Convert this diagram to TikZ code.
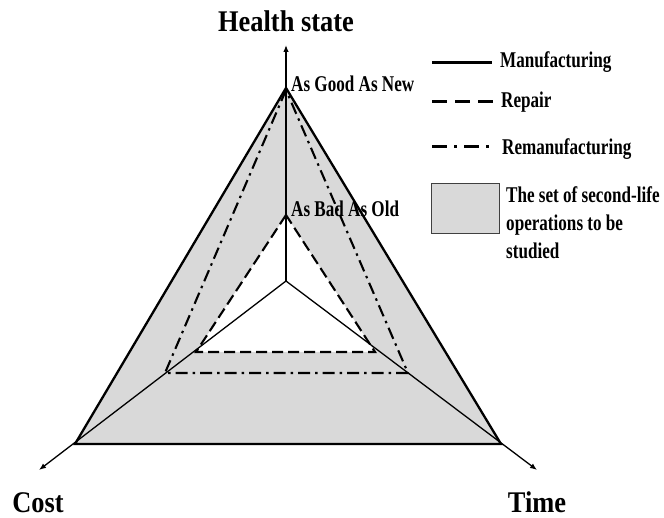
\documentclass[tikz,border=0pt]{standalone}
\usepackage{fontspec}
\setmainfont{Liberation Serif}
\newfontfamily\axisfont{Liberation Serif}[FakeStretch=0.88]
\newfontfamily\legfont{Liberation Serif}[FakeStretch=0.76]
\usetikzlibrary{arrows.meta}

\begin{document}
\begin{tikzpicture}[x=1pt,y=-1pt,
  axislabel/.style={font=\axisfont\bfseries\fontsize{30}{30}\selectfont,inner sep=0pt,anchor=base},
  leglabel/.style={font=\legfont\bfseries\fontsize{22.5}{28.3}\selectfont,inner sep=0pt,anchor=base west},
  axisline/.style={line width=1.3pt,-{Latex[length=7pt,width=5.5pt]}},
  manuf/.style={line width=2.3pt},
  repair/.style={line width=2.1pt,dash pattern=on 11pt off 5pt},
  reman/.style={line width=2.1pt,dash pattern=on 12pt off 5pt on 2.5pt off 5pt}]
\useasboundingbox (0,0) rectangle (664,518);
% axes
\coordinate (O) at (286,281);
\coordinate (health) at (286,45);
\coordinate (cost) at (39,470);
\coordinate (time) at (537,470);
% manufacturing
\coordinate (m1) at (286,88);
\coordinate (m2) at (75,444);
\coordinate (m3) at (501,444);
% repair
\coordinate (r1) at (286,215);
\coordinate (r2) at (196,352);
\coordinate (r3) at (375,352);
% remanufacturing
\coordinate (q1) at (286,90);
\coordinate (q2) at (165,373);
\coordinate (q3) at (408,373);
\fill[black!15,even odd rule] (m1) -- (m2) -- (m3) -- cycle (r1) -- (r2) -- (r3) -- cycle;
\draw[axisline] (O) -- (health);
\draw[axisline] (O) -- (cost);
\draw[axisline] (O) -- (time);
\draw[manuf] (m1) -- (m2) -- (m3) -- cycle;
\draw[repair] (r1) -- (r2) -- (r3) -- cycle;
\draw[reman] (q1) -- (q2) -- (q3) -- cycle;
\node[axislabel] (hlabel) at (286,32) {Health state};
\node[axislabel] (clabel) at (38,512) {Cost};
\node[axislabel] (tlabel) at (537,512) {Time};
\node[leglabel] (good) at (291,92) {As Good As New};
\node[leglabel] (bad) at (291,217) {As Bad As Old};
% legend
\coordinate (lm) at (432,63);
\coordinate (lr) at (432,102);
\coordinate (lq) at (432,147);
\draw[line width=3pt] (lm) -- +(60,0);
\draw[line width=3pt,dash pattern=on 15pt off 8pt] (lr) -- +(61,0);
\draw[line width=3pt,dash pattern=on 15pt off 7pt on 3pt off 7pt] (lq) -- +(57,0);
\node[leglabel] (lmtext) at (500,68) {Manufacturing};
\node[leglabel] (lrtext) at (501,108) {Repair};
\node[leglabel] (lqtext) at (502,155) {Remanufacturing};
\node[draw=black!75,fill=black!15,line width=1pt,minimum width=68pt,minimum height=50pt,inner sep=0pt,anchor=north west] (setbox) at (431,183) {};
\node[leglabel,anchor=north west,align=left] (settext) at (506,186) {The set of second-life\\operations to be\\studied};
\end{tikzpicture}
\end{document}
